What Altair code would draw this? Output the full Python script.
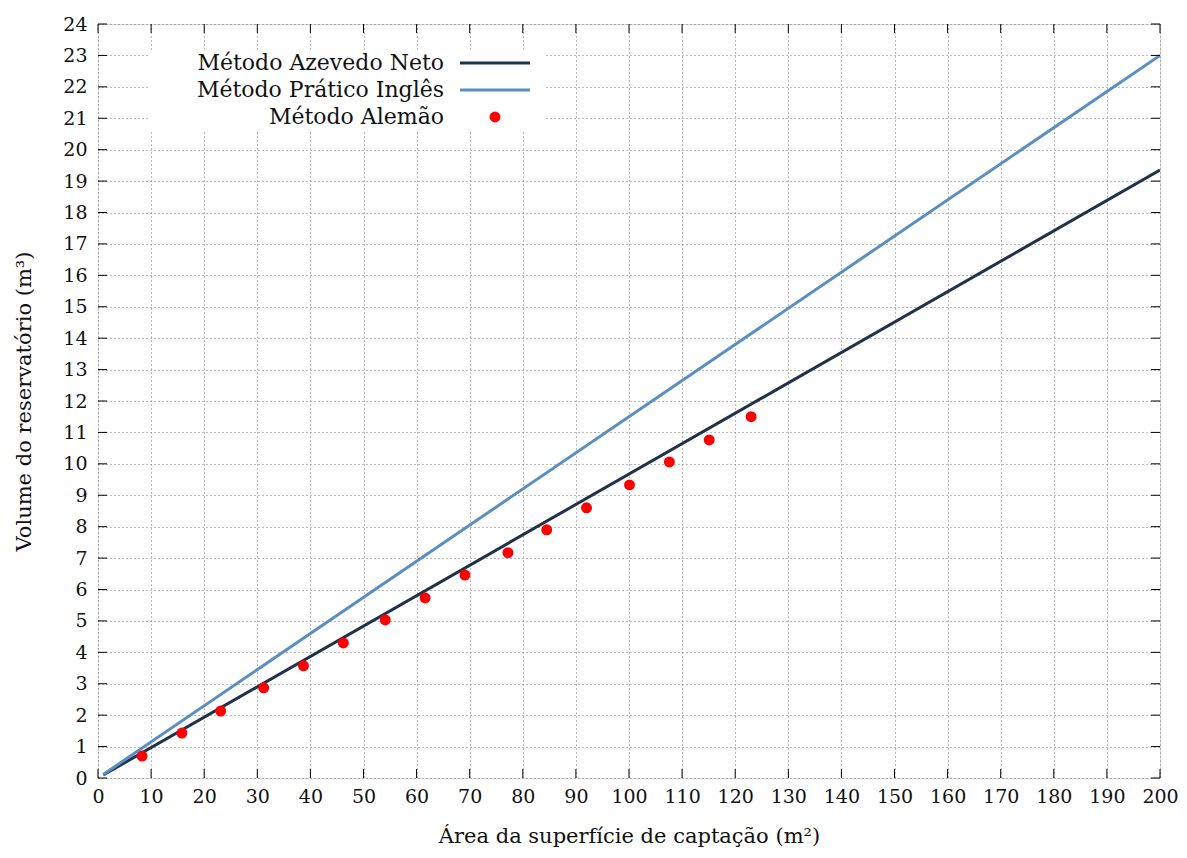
import altair as alt
import pandas as pd

# ---- data ----
series_names = ["Método Azevedo Neto", "Método Prático Inglês", "Método Alemão"]
line_x = [1, 200]
azevedo_y = [0.097, 19.35]
ingles_y = [0.115, 23.0]
alemao_x = [8.3, 15.8, 23.1, 31.2, 38.7, 46.2, 54.1, 61.6, 69.1, 77.2, 84.5, 92.0, 100.1, 107.6, 115.1, 123.0]
alemao_y = [0.70, 1.43, 2.13, 2.87, 3.57, 4.30, 5.03, 5.73, 6.46, 7.17, 7.90, 8.60, 9.33, 10.06, 10.76, 11.50]
x_ticks = list(range(0, 201, 10))
y_ticks = list(range(0, 25, 1))

W, H = 1062, 754
FONT = "DejaVu Serif"
C_AZ = "#1f3248"
C_IN = "#5b8fc2"
C_AL = "#ff0000"

xs = alt.Scale(domain=[0, 200], nice=False, zero=False)
ys = alt.Scale(domain=[0, 24], nice=False, zero=False)

xaxis = alt.Axis(values=x_ticks, grid=True, ticks=False, domain=False,
                 labelPadding=9, labelFontSize=19, labelFont=FONT, labelColor="#111",
                 labelOverlap=False, labelFontWeight="normal",
                 title="Área da superfície de captação (m²)", titleFont=FONT,
                 titleFontSize=21, titleFontWeight="normal", titleColor="#111", titlePadding=19,
                 gridDash=[1, 3], gridColor="#777", gridWidth=1, labelFlush=False)
yaxis = alt.Axis(values=y_ticks, grid=True, ticks=False, domain=False,
                 labelPadding=11, labelFontSize=19, labelFont=FONT, labelColor="#111",
                 labelOverlap=False, labelFontWeight="normal",
                 title="Volume do reservatório (m³)", titleFont=FONT,
                 titleFontSize=21, titleFontWeight="normal", titleColor="#111", titlePadding=28,
                 gridDash=[1, 3], gridColor="#777", gridWidth=1, labelFlush=False)

df_lines = pd.DataFrame({"x": line_x * 2,
                         "y": azevedo_y + ingles_y,
                         "s": [series_names[0]] * 2 + [series_names[1]] * 2})
df_pts = pd.DataFrame({"x": alemao_x, "y": alemao_y})
df_xt = pd.DataFrame({"x": x_ticks})
df_yt = pd.DataFrame({"y": y_ticks})
one = pd.DataFrame({"k": [0]})

X = alt.X("x:Q", scale=xs, axis=xaxis)
Y = alt.Y("y:Q", scale=ys, axis=yaxis)

lines = alt.Chart(df_lines).mark_line(strokeWidth=3, clip=True).encode(
    x=X, y=Y,
    color=alt.Color("s:N", scale=alt.Scale(domain=series_names[:2], range=[C_AZ, C_IN]), legend=None),
)

pts = alt.Chart(df_pts).mark_circle(size=120, color=C_AL, opacity=1).encode(x=X, y=Y)

TL = 9
tick_b = alt.Chart(df_xt).mark_rule(color="black", strokeWidth=1).encode(
    x=X, y=alt.value(H), y2=alt.value(H - TL))
tick_t = alt.Chart(df_xt).mark_rule(color="black", strokeWidth=1).encode(
    x=X, y=alt.value(0), y2=alt.value(TL))
tick_l = alt.Chart(df_yt).mark_rule(color="black", strokeWidth=1).encode(
    y=Y, x=alt.value(0), x2=alt.value(TL))
tick_r = alt.Chart(df_yt).mark_rule(color="black", strokeWidth=1).encode(
    y=Y, x=alt.value(W), x2=alt.value(W - TL))

# legend (gnuplot style: label left, key right)
leg_bg = alt.Chart(one).mark_rect(color="white", opacity=1).encode(
    x=alt.value(52), x2=alt.value(446), y=alt.value(26), y2=alt.value(106))
leg_layers = [leg_bg]
leg_y = [39, 66, 93]
for i, name in enumerate(series_names):
    leg_layers.append(alt.Chart(one).mark_text(align="right", baseline="middle", font=FONT,
                                               fontSize=22, fontWeight="normal", color="#111").encode(
        x=alt.value(346), y=alt.value(leg_y[i]), text=alt.value(name)))
leg_layers.append(alt.Chart(one).mark_rule(color=C_AZ, strokeWidth=3).encode(
    x=alt.value(362), x2=alt.value(432), y=alt.value(leg_y[0])))
leg_layers.append(alt.Chart(one).mark_rule(color=C_IN, strokeWidth=3).encode(
    x=alt.value(362), x2=alt.value(432), y=alt.value(leg_y[1])))
leg_layers.append(alt.Chart(one).mark_circle(size=120, color=C_AL, opacity=1).encode(
    x=alt.value(397), y=alt.value(leg_y[2])))

chart = alt.layer(lines, *leg_layers, pts, tick_b, tick_t, tick_l, tick_r).properties(
    width=W, height=H,
    autosize=alt.AutoSizeParams(type="none"),
    padding={"left": 90, "top": 16, "right": 19, "bottom": 70},
).configure_view(stroke="black", strokeWidth=1.5).configure(background="white")

chart.save("out.html", embed_options={"renderer": "svg", "actions": False})
